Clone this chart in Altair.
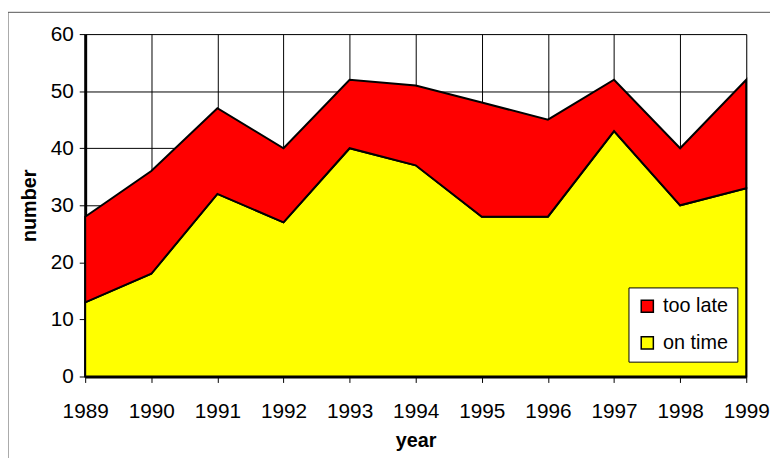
import altair as alt
import pandas as pd

years = [1989, 1990, 1991, 1992, 1993, 1994, 1995, 1996, 1997, 1998, 1999]
on_time = [13, 18, 32, 27, 40, 37, 28, 28, 43, 30, 33]
too_late = [15, 18, 15, 13, 12, 14, 20, 17, 9, 10, 19]
series = ["too late", "on time"]
colors = ["#FF0000", "#FFFF00"]

rows = []
for y, a, b in zip(years, on_time, too_late):
    rows.append({"year": y, "status": "on time", "number": a, "ord": 0})
    rows.append({"year": y, "status": "too late", "number": b, "ord": 1})
df = pd.DataFrame(rows)

FONT = "Liberation Sans"

area = alt.Chart(df).mark_area(stroke="black", strokeWidth=2, opacity=1).encode(
    x=alt.X("year:Q", scale=alt.Scale(domain=[1989, 1999], nice=False),
            axis=alt.Axis(values=years, format="d", title="year", grid=True,
                          gridColor="black", gridWidth=1, gridOpacity=1,
                          domainColor="black", domainWidth=3,
                          tickColor="black", tickSize=6, labelPadding=18,
                          labelFlush=False, labelOverlap=False,
                          labelFontSize=21, labelColor="black", labelFont=FONT,
                          titleFont=FONT, titleFontSize=20, titleFontWeight="bold",
                          titlePadding=10, titleColor="black")),
    y=alt.Y("number:Q", stack="zero", scale=alt.Scale(domain=[0, 60], nice=False),
            axis=alt.Axis(values=[0, 10, 20, 30, 40, 50, 60], title="number", grid=True,
                          gridColor="black", gridWidth=1, gridOpacity=1,
                          domainColor="black", domainWidth=3,
                          tickColor="black", tickSize=6, labelPadding=6,
                          labelFlush=False,
                          labelFontSize=21, labelColor="black", labelFont=FONT,
                          titleFont=FONT, titleFontSize=20, titleFontWeight="bold",
                          titlePadding=11, titleColor="black")),
    color=alt.Color("status:N", scale=alt.Scale(domain=series, range=colors),
                    legend=alt.Legend(title=None, orient="none", legendX=549, legendY=256,
                                      fillColor="white", strokeColor="black",
                                      padding=9, symbolType="square", symbolSize=150,
                                      symbolStrokeColor="black", symbolStrokeWidth=1.5,
                                      symbolOpacity=1,
                                      labelFontSize=20, labelFont=FONT, labelColor="black",
                                      rowPadding=17, labelOffset=6)),
    order=alt.Order("ord:Q"),
)

frame = alt.Chart(pd.DataFrame({"a": [0]})).mark_rect(
    fill=None, stroke="#555555", strokeWidth=1
).encode(x=alt.value(-78), x2=alt.value(720), y=alt.value(-22), y2=alt.value(440))

chart = alt.layer(area, frame).properties(
    width=668, height=346,
    autosize=alt.AutoSizeParams(type="none"),
    padding={"left": 78, "top": 24, "right": 24, "bottom": 80},
).configure_view(stroke="black", strokeWidth=3).configure(background="white")

chart.save("out.html", embed_options={"renderer": "svg", "actions": False})
